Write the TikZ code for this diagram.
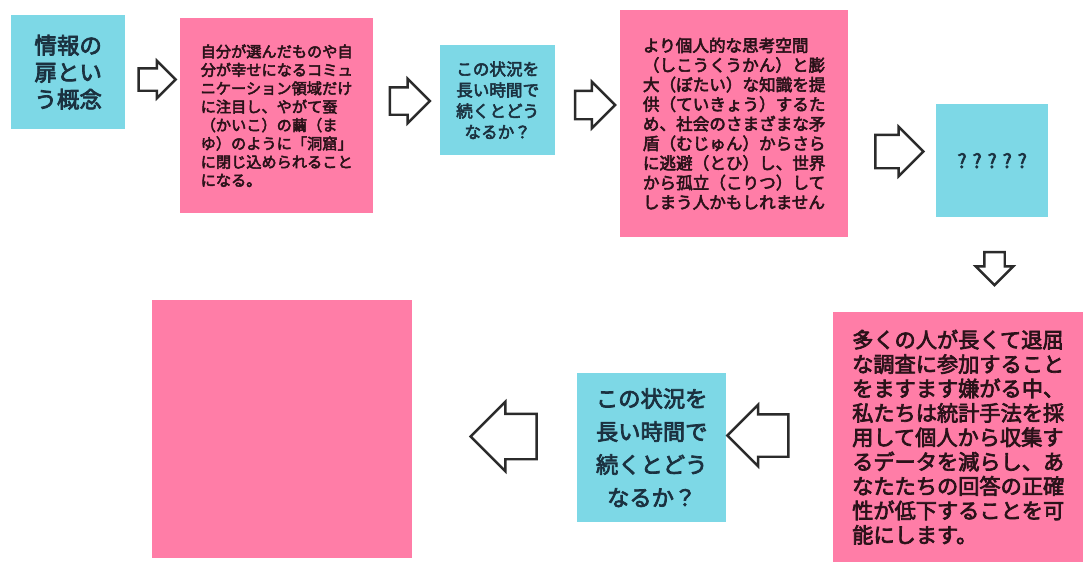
\documentclass[tikz,border=0pt]{standalone}
\usepackage{fontspec}
\newfontfamily\jp{Noto Sans CJK JP}[FakeBold=3.2]
\usetikzlibrary{shapes.arrows}
\definecolor{cy}{HTML}{7DD8E6}
\definecolor{pk}{HTML}{FF7DA7}
\definecolor{blueink}{HTML}{1B3140}
\definecolor{pinkink}{HTML}{2A1219}
\definecolor{arrowgray}{HTML}{2B2B2B}
\tikzset{
  card/.style={rectangle, anchor=north west, inner sep=0pt},
  bluecard/.style={card, fill=cy, text=blueink},
  pinkcard/.style={card, fill=pk, text=pinkink},
  blockarrow/.style n args={3}{single arrow, draw=arrowgray, fill=white,
    line width=2.4pt, line join=miter, single arrow tip angle=90,
    minimum height=#1, minimum width=#2, inner xsep=0pt, inner ysep={#3/2},
    single arrow head extend={(#2-#3)/2}},
}
\begin{document}
\begin{tikzpicture}[x=1pt,y=-1pt]
\useasboundingbox[fill=white] (0,0) rectangle (1083,562);
% cards
\node[bluecard, minimum width=114, minimum height=114, align=center,
  font=\jp\fontsize{22.5}{27}\selectfont] (b1) at (11,15)
  {情報の\\扉とい\\う概念};
\node[pinkcard, minimum width=193, minimum height=195, align=left,
  font=\jp\fontsize{15.2}{18.4}\selectfont] (b2) at (180,18)
  {自分が選んだものや自\\分が幸せになるコミュ\\ニケーション領域だけ\\に注目し、やがて蚕\\（かいこ）の繭（ま\\ゆ）のように「洞窟」\\に閉じ込められること\\になる。};
\node[bluecard, minimum width=115, minimum height=110, align=center,
  font=\jp\fontsize{16.6}{21}\selectfont] (b3) at (440,45)
  {この状況を\\長い時間で\\続くとどう\\なるか？};
\node[pinkcard, minimum width=228, minimum height=227, align=left,
  font=\jp\fontsize{16.6}{19.6}\selectfont] (b4) at (620,10)
  {より個人的な思考空間\\（しこうくうかん）と膨\\大（ぼたい）な知識を提\\供（ていきょう）するた\\め、社会のさまざまな矛\\盾（むじゅん）からさら\\に逃避（とひ）し、世界\\から孤立（こりつ）して\\しまう人かもしれません};
\node[bluecard, minimum width=112, minimum height=113,
  font=\jp\fontsize{19.5}{22}\selectfont] (b5) at (936,104)
  {? ? ? ? ?};
\node[pinkcard, minimum width=250, minimum height=250, align=left,
  font=\jp\fontsize{21.2}{24.4}\selectfont] (b6) at (833,312)
  {多くの人が長くて退屈\\な調査に参加すること\\をますます嫌がる中、\\私たちは統計手法を採\\用して個人から収集す\\るデータを減らし、あ\\なたたちの回答の正確\\性が低下することを可\\能にします。};
\node[bluecard, minimum width=149, minimum height=149, align=center,
  font=\jp\fontsize{22.3}{33}\selectfont] (b7) at (577,373)
  {この状況を\\長い時間で\\続くとどう\\なるか？};
\node[pinkcard, minimum width=260, minimum height=258] (b8) at (152,300) {};
% block arrows
\node[blockarrow={37}{35}{20}] (a1) at (151.5,79.5) {};
\node[blockarrow={40}{42}{25}] (a2) at (403,101) {};
\node[blockarrow={40}{44}{26}] (a3) at (588,105) {};
\node[blockarrow={48}{47}{31}] (a4) at (891,151.5) {};
\node[blockarrow={33}{35}{18}, rotate=-90] (a5) at (994.5,263.5) {};
\node[blockarrow={61}{59}{40}, rotate=180] (a6) at (768.5,435.5) {};
\node[blockarrow={66}{67}{43}, rotate=180] (a7) at (515,436.5) {};
\end{tikzpicture}
\end{document}
